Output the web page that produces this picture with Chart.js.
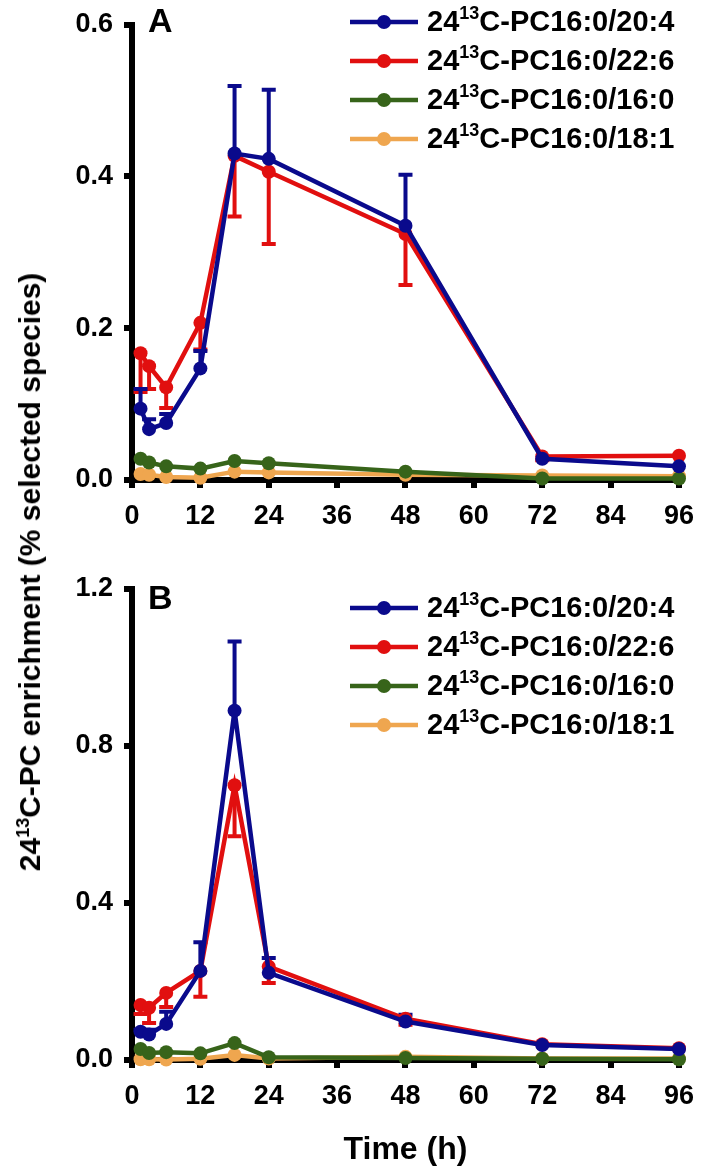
<!DOCTYPE html>
<html>
<head>
<meta charset="utf-8">
<script src="https://cdn.jsdelivr.net/npm/chart.js@4"></script>
<style>
  body { margin: 0; background: #fff; width: 709px; height: 1171px; position: relative; overflow: hidden;
         font-family: "Liberation Sans", Arial, sans-serif; }
  .box { position: absolute; left: 0; width: 709px; }
  .letter { position: absolute; font-weight: bold; font-size: 34px; line-height: 1; }
  #ytitle { position: absolute; left: 30px; top: 572px; transform: translate(-50%, -50%) rotate(-90deg);
            white-space: nowrap; font-weight: bold; font-size: 30px; }
  #ytitle sup { font-size: 0.6em; }
</style>
</head>
<body>
<div class="box" style="top:0;height:540px"><canvas id="chartA"></canvas></div>
<div class="box" style="top:560px;height:611px"><canvas id="chartB"></canvas></div>
<div class="letter" style="left:148px;top:3px">A</div>
<div class="letter" style="left:148px;top:580px">B</div>
<div id="ytitle">24<sup>13</sup>C-PC enrichment (% selected species)</div>
<script>
// time points (h)
var times = [1.5, 3, 6, 12, 18, 24, 48, 72, 96];
var names = ['PC16:0/20:4', 'PC16:0/22:6', 'PC16:0/16:0', 'PC16:0/18:1'];
var colors = ['#0a0a8c', '#e10f0f', '#37641a', '#efa64f'];

// panel A
var a2004 = [0.094, 0.067, 0.075, 0.147, 0.430, 0.423, 0.335, 0.028, 0.018];
var a2004err = [0.026, 0.013, 0.012, 0.023, 0.089, 0.091, 0.067, 0, 0];
var a2206 = [0.167, 0.150, 0.122, 0.207, 0.427, 0.406, 0.324, 0.031, 0.032];
var a2206err = [0.051, 0.030, 0.027, 0.035, 0.080, 0.095, 0.067, 0.005, 0];
var a1600 = [0.028, 0.023, 0.018, 0.015, 0.025, 0.022, 0.011, 0.002, 0.002];
var a1801 = [0.008, 0.007, 0.004, 0.003, 0.011, 0.010, 0.007, 0.006, 0.005];

// panel B
var b2004 = [0.072, 0.065, 0.092, 0.227, 0.890, 0.222, 0.098, 0.038, 0.028];
var b2004err = [0.005, 0.012, 0.031, 0.073, 0.176, 0.038, 0.017, 0, 0];
var b2206 = [0.140, 0.133, 0.171, 0.227, 0.700, 0.238, 0.105, 0.040, 0.030];
var b2206err = [0.023, 0.039, 0.036, 0.066, 0.130, 0.042, 0.015, 0, 0];
var b1600 = [0.028, 0.018, 0.020, 0.017, 0.043, 0.007, 0.005, 0.003, 0.002];
var b1801 = [0.002, 0.002, 0.001, 0.003, 0.013, 0.004, 0.008, 0.004, 0.004];

var FONT = '"Liberation Sans", Arial, sans-serif';

function pts(vals) {
  return times.map((t, i) => ({ x: t, y: vals[i] }));
}

function makeSet(i, vals, err, dir) {
  return {
    label: '24\u00b9\u00b3C-' + names[i],
    data: pts(vals),
    err: err, errDir: dir,
    borderColor: colors[i], backgroundColor: colors[i],
    borderWidth: 4.5, pointRadius: 7, pointHoverRadius: 7,
    pointBorderWidth: 0, tension: 0, clip: false
  };
}

// one-sided error bars
var errorBars = {
  id: 'errorBars',
  beforeDatasetsDraw(chart) {
    var ctx = chart.ctx, xs = chart.scales.x, ys = chart.scales.y;
    chart.data.datasets.slice().reverse().forEach(ds => {
      if (!ds.err) return;
      ctx.save();
      ctx.strokeStyle = ds.borderColor;
      ctx.lineWidth = 4;
      ds.data.forEach((p, i) => {
        var e = ds.err[i];
        if (!e) return;
        var px = xs.getPixelForValue(p.x);
        var y0 = ys.getPixelForValue(p.y), y1 = ys.getPixelForValue(p.y + ds.errDir * e);
        ctx.beginPath();
        ctx.moveTo(px, y0); ctx.lineTo(px, y1);
        ctx.moveTo(px - 7, y1); ctx.lineTo(px + 7, y1);
        ctx.stroke();
      });
      ctx.restore();
    });
  }
};

// legend with superscript
var legendSup = {
  id: 'legendSup',
  afterDraw(chart, args, opts) {
    var ctx = chart.ctx;
    chart.data.datasets.forEach((ds, i) => {
      var y = opts.top + i * 39;
      ctx.save();
      ctx.strokeStyle = ds.borderColor; ctx.fillStyle = ds.borderColor; ctx.lineWidth = 4.5;
      ctx.beginPath(); ctx.moveTo(350, y); ctx.lineTo(418, y); ctx.stroke();
      ctx.beginPath(); ctx.arc(384, y, 7, 0, Math.PI * 2); ctx.fill();
      ctx.fillStyle = '#000';
      ctx.textBaseline = 'middle';
      var x = 427;
      ctx.font = 'bold 29px ' + FONT;
      ctx.fillText('24', x, y + 1); x += ctx.measureText('24').width;
      ctx.font = 'bold 18px ' + FONT;
      ctx.fillText('13', x, y - 8); x += ctx.measureText('13').width;
      ctx.font = 'bold 29px ' + FONT;
      ctx.fillText('C-' + names[i], x, y + 1);
      ctx.restore();
    });
  }
};

function settings(sets, ymax, ystep, padTop, xHeight, legendTop, showTitle) {
  return {
    type: 'line',
    data: { datasets: sets },
    plugins: [errorBars, legendSup],
    options: {
      responsive: true, maintainAspectRatio: false, animation: false,
      layout: { padding: { top: padTop, right: 17, left: 0, bottom: 0 } },
      plugins: { legend: { display: false }, tooltip: { enabled: false }, legendSup: { top: legendTop } },
      scales: {
        x: {
          type: 'linear', min: 0, max: 96,
          afterFit: s => { s.height = xHeight; },
          ticks: { stepSize: 12, color: '#000', padding: 15, font: { family: FONT, size: 27, weight: 'bold', lineHeight: 1 } },
          grid: { drawOnChartArea: false, drawTicks: true, tickLength: 8, tickWidth: 6, tickColor: '#000', lineWidth: 6, color: '#000' },
          border: { display: true, width: 6, color: '#000' },
          title: { display: showTitle, text: 'Time (h)', color: '#000', padding: { top: 0, bottom: 2 },
                   font: { family: FONT, size: 32, weight: 'bold', lineHeight: 1.2 } }
        },
        y: {
          min: 0, max: ymax,
          afterFit: s => { s.width = 132; },
          ticks: { stepSize: ystep, color: '#000', padding: 11, callback: v => v.toFixed(1),
                   font: { family: FONT, size: 27, weight: 'bold', lineHeight: 1 } },
          grid: { drawOnChartArea: false, drawTicks: true, tickLength: 8, tickWidth: 6, tickColor: '#000', lineWidth: 6, color: '#000' },
          border: { display: true, width: 6, color: '#000' }
        }
      }
    }
  };
}

new Chart(document.getElementById('chartA'), settings([
  makeSet(0, a2004, a2004err, 1),
  makeSet(1, a2206, a2206err, -1),
  makeSet(2, a1600, null, 1),
  makeSet(3, a1801, null, 1)
], 0.6, 0.2, 13, 60, 22, false));

new Chart(document.getElementById('chartB'), settings([
  makeSet(0, b2004, b2004err, 1),
  makeSet(1, b2206, b2206err, -1),
  makeSet(2, b1600, null, 1),
  makeSet(3, b1801, null, 1)
], 1.2, 0.4, 29, 111, 48, true));
</script>
</body>
</html>
